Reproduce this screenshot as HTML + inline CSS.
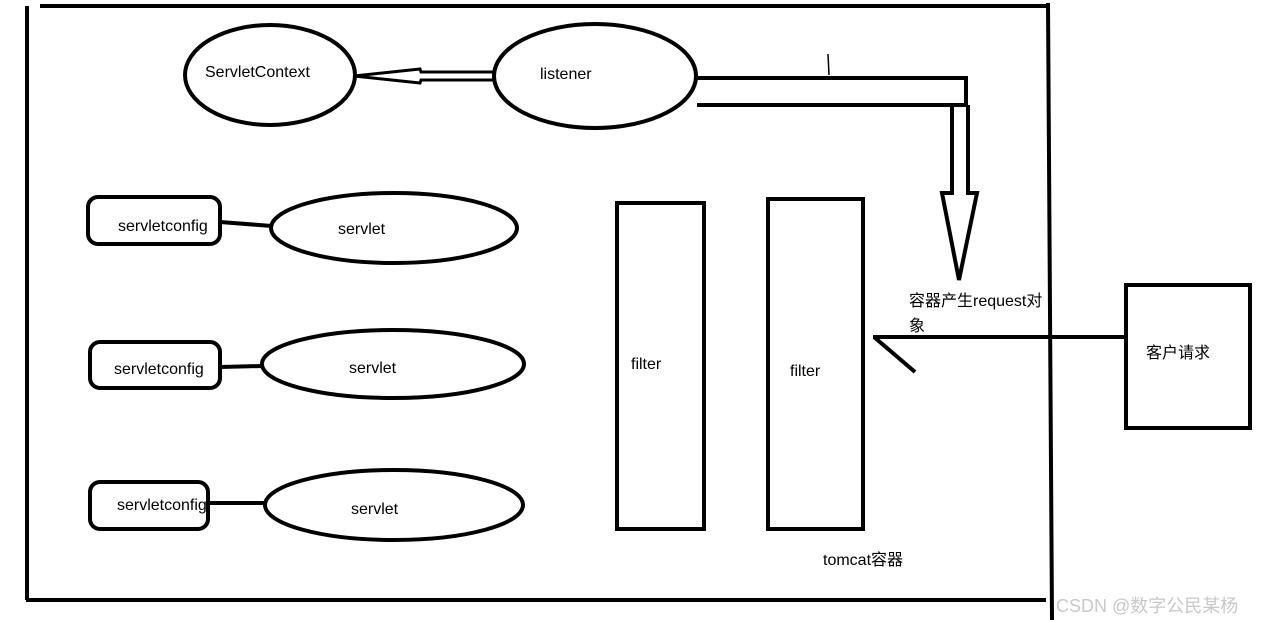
<!DOCTYPE html>
<html><head><meta charset="utf-8"><style>
html,body{margin:0;padding:0;background:#fff;width:1262px;height:623px;overflow:hidden}
text{font-family:"Liberation Sans","Noto Sans CJK SC",sans-serif;font-size:16px;fill:#000}
</style></head><body>
<svg width="1262" height="623" xmlns="http://www.w3.org/2000/svg">
<g stroke="#000" stroke-width="4" fill="none">
<line x1="40" y1="6" x2="1048" y2="6"/>
<line x1="27" y1="6" x2="27" y2="600"/>
<line x1="26" y1="600" x2="1046" y2="600"/>
<line x1="1048" y1="3" x2="1052" y2="620"/>
<ellipse cx="270" cy="75" rx="85" ry="50"/>
<ellipse cx="595" cy="76" rx="101" ry="52"/>
<path d="M494 72 L421 72 L420 69 L354 76 L420 83 L421 80 L494 80" stroke-width="3"/>
<path d="M697 78 L966 78 L966 105 L697 105"/>
<path d="M952 105 L952 193 L942 193 L959 280 L977 193 L968 193 L968 105"/>
<line x1="828" y1="54" x2="829" y2="75" stroke-width="1.5"/>
<rect x="88" y="197" width="132" height="47" rx="10"/>
<line x1="220" y1="222" x2="272" y2="226"/>
<ellipse cx="394" cy="228" rx="123" ry="35"/>
<rect x="90" y="342" width="130" height="46" rx="10"/>
<line x1="220" y1="367" x2="262" y2="366"/>
<ellipse cx="393" cy="364" rx="131" ry="34"/>
<rect x="90" y="482" width="118" height="47" rx="10"/>
<line x1="208" y1="503" x2="266" y2="503"/>
<ellipse cx="394" cy="505" rx="129" ry="35"/>
<rect x="617" y="203" width="87" height="326"/>
<rect x="768" y="199" width="95" height="330"/>
<line x1="873" y1="337" x2="1125" y2="337"/>
<line x1="874" y1="337" x2="915" y2="372"/>
<rect x="1126" y="285" width="124" height="143"/>
</g>
<text x="205" y="77" font-size="15">ServletContext</text>
<text x="540" y="79">listener</text>
<text x="118" y="231" font-size="15">servletconfig</text>
<text x="338" y="234">servlet</text>
<text x="114" y="374" font-size="15">servletconfig</text>
<text x="349" y="373">servlet</text>
<text x="117" y="510" font-size="15">servletconfig</text>
<text x="351" y="514">servlet</text>
<text x="631" y="369">filter</text>
<text x="790" y="376">filter</text>
<text x="909" y="306" font-size="14">容器产生request对</text>
<text x="909" y="331" font-size="14">象</text>
<text x="1146" y="358" font-size="14">客户请求</text>
<text x="823" y="565" font-size="14">tomcat容器</text>
<text x="1056" y="612" style="font-size:18px;fill:#c8c8c8">CSDN @数字公民某杨</text>
</svg>
</body></html>
